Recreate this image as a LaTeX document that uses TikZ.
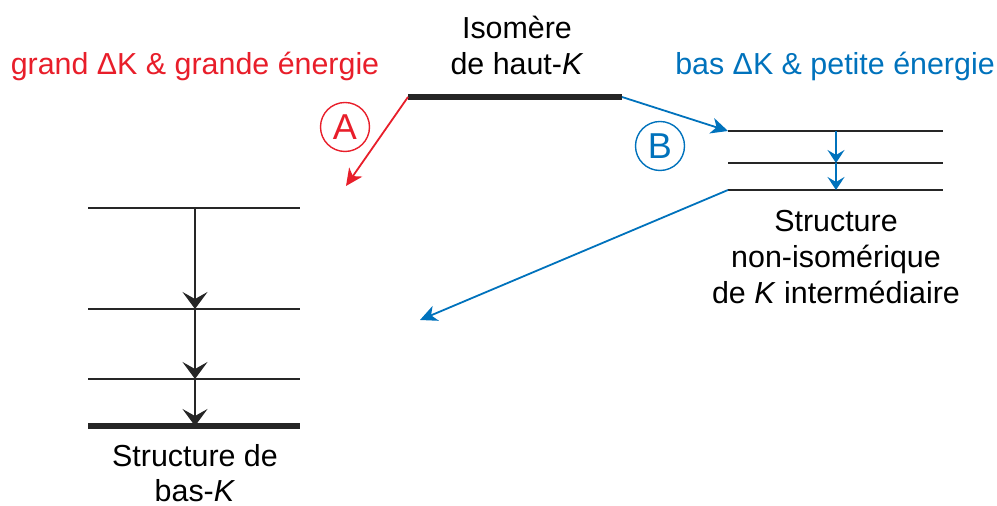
\documentclass[tikz,border=0pt]{standalone}
\usepackage{fontspec}
\setmainfont{Liberation Sans}
\usetikzlibrary{arrows.meta}
\definecolor{myred}{RGB}{232,30,42}
\definecolor{myblue}{RGB}{0,114,188}
\begin{document}
\begin{tikzpicture}[x=0.5pt,y=-0.5pt,
  lvl/.style={line width=1pt,draw=black!85},
  thick lvl/.style={line width=2.8pt,draw=black!85},
  lbl/.style={font=\fontsize{15.2}{18}\selectfont,anchor=base,inner sep=0pt},
  tipk/.style={-{Stealth[length=8.5pt,width=12.5pt,inset=3.5pt]}},
  tipb/.style={-{Stealth[length=6.5pt,width=8.5pt,inset=2.5pt]}},
  tipt/.style={-{Stealth[length=8.5pt,width=8pt,inset=2.5pt]}},
  circ/.style={circle,draw,line width=0.7pt,minimum size=24.5pt,inner sep=0pt,font=\fontsize{18}{18}\selectfont}]
\useasboundingbox (0,0) rectangle (997,506);
% top isomer level
\coordinate (t1) at (408,97); \coordinate (t2) at (622,97);
\draw[thick lvl] (t1) -- (t2);
\node[lbl] (iso1) at (517,39) {Isomère};
\node[lbl] (iso2) at (517,75) {de haut-\textit{K}};
\node[lbl,text=myred] (ta) at (195,75) {grand ΔK \& grande énergie};
\node[lbl,text=myblue] (tb) at (835,75) {bas ΔK \& petite énergie};
\node[circ,draw=myred,text=myred] (A) at (345,127) {A};
\node[circ,draw=myblue,text=myblue] (B) at (660,146) {B};
% right levels
\coordinate (r1a) at (728,131); \coordinate (r1b) at (943,131);
\coordinate (r2a) at (728,163); \coordinate (r2b) at (943,163);
\coordinate (r3a) at (728,190); \coordinate (r3b) at (943,190);
\draw[lvl] (r1a) -- (r1b);
\draw[lvl] (r2a) -- (r2b);
\draw[lvl] (r3a) -- (r3b);
\coordinate (rm1) at (836,131); \coordinate (rm2) at (836,163); \coordinate (rm3) at (836,190);
\draw[myblue,line width=1pt,tipb] (rm1) -- (rm2);
\draw[myblue,line width=1pt,tipb] (rm2) -- (rm3);
\node[lbl] (rs1) at (836,232) {Structure};
\node[lbl] (rs2) at (836,268) {non-isomérique};
\node[lbl] (rs3) at (836,304) {de \textit{K} intermédiaire};
% left levels
\coordinate (l1a) at (88,208); \coordinate (l1b) at (300,208);
\coordinate (l2a) at (88,309); \coordinate (l2b) at (300,309);
\coordinate (l3a) at (88,379); \coordinate (l3b) at (300,379);
\coordinate (l4a) at (88,426); \coordinate (l4b) at (300,426);
\draw[lvl] (l1a) -- (l1b);
\draw[lvl] (l2a) -- (l2b);
\draw[lvl] (l3a) -- (l3b);
\draw[thick lvl] (l4a) -- (l4b);
\coordinate (lm1) at (195,208); \coordinate (lm2) at (195,309);
\coordinate (lm3) at (195,379); \coordinate (lm4) at (195,426);
\draw[black!85,line width=1pt,tipk] (lm1) -- (lm2);
\draw[black!85,line width=1pt,tipk] (lm2) -- (lm3);
\draw[black!85,line width=1pt,tipk] (lm3) -- (lm4);
\node[lbl] (ls1) at (195,467) {Structure de};
\node[lbl,text depth=0pt] (ls2) at (195,502) {bas-\textit{K}};
% transitions
\coordinate (aend) at (346,186);
\coordinate (cend) at (420,320);
\draw[myred,line width=0.9pt,tipt] (t1) -- (aend);
\draw[myblue,line width=0.9pt,tipt] (t2) -- (r1a);
\draw[myblue,line width=0.9pt,tipt] (r3a) -- (cend);
\end{tikzpicture}
\end{document}
